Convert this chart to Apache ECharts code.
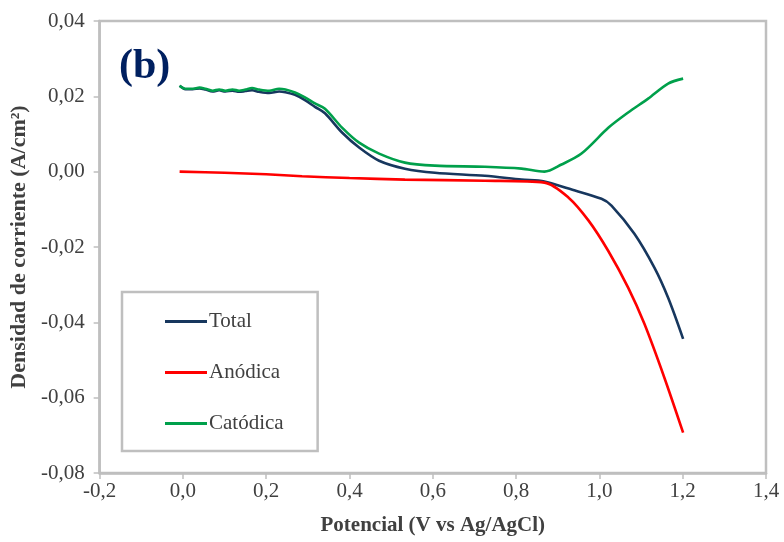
<!DOCTYPE html>
<html>
<head>
<meta charset="utf-8">
<script src="https://cdn.jsdelivr.net/npm/echarts@6/dist/echarts.min.js"></script>
<style>html,body{margin:0;padding:0;background:#fff}#c{width:784px;height:542px}</style>
</head>
<body>
<div id="c"></div>
<script>
// Potencial (V vs Ag/AgCl)
const totalX = [-0.008,0.006,0.023,0.040,0.054,0.071,0.087,0.102,0.119,0.135,0.150,0.166,0.183,0.207,0.231,0.246,0.269,0.293,0.317,0.341,0.382,0.423,0.471,0.533,0.605,0.725,0.813,0.868,0.926,1.005,1.029,1.084,1.132,1.165,1.201];
const totalY = [0.0228,0.0219,0.0219,0.0221,0.0218,0.0213,0.0216,0.0213,0.0215,0.0212,0.0214,0.0216,0.0212,0.0209,0.0213,0.0211,0.0204,0.0190,0.0172,0.0155,0.0104,0.0064,0.0029,0.0008,-0.0003,-0.0011,-0.0021,-0.0026,-0.0045,-0.0072,-0.0090,-0.0165,-0.0255,-0.0335,-0.0444];

const anodicaX = [-0.008,0.1,0.2,0.286,0.4,0.533,0.725,0.868,0.926,0.974,1.021,1.069,1.108,1.156,1.201];
const anodicaY = [0.0000,-0.0003,-0.0007,-0.0012,-0.0017,-0.0021,-0.0024,-0.0029,-0.0069,-0.0130,-0.0210,-0.0308,-0.0404,-0.0547,-0.0693];

const catodicaX = [-0.008,0.006,0.023,0.040,0.054,0.071,0.087,0.102,0.119,0.135,0.150,0.166,0.183,0.207,0.231,0.246,0.269,0.293,0.317,0.341,0.382,0.423,0.471,0.533,0.605,0.725,0.813,0.868,0.909,0.957,1.022,1.069,1.117,1.165,1.201];
const catodicaY = [0.0228,0.0220,0.0220,0.0223,0.0220,0.0215,0.0218,0.0215,0.0218,0.0215,0.0218,0.0222,0.0218,0.0215,0.0220,0.0218,0.0210,0.0197,0.0181,0.0167,0.0117,0.0077,0.0048,0.0024,0.0016,0.0013,0.0008,0.0000,0.0019,0.0048,0.0117,0.0157,0.0194,0.0234,0.0247];

const seriesNames = ['Total','Anódica','Catódica'];
const xTicks = {min:-0.2, max:1.4, interval:0.2};
const yTicks = {min:-0.08, max:0.04, interval:0.02};

function pairs(xs, ys){ return xs.map((x,i)=>[x, ys[i]]); }
function fmt(v, d){ const r = Number(v.toFixed(d)); return (Object.is(r,-0)?0:r).toFixed(d).replace('.', ','); }

const chart = echarts.init(document.getElementById('c'));
const font = 'Liberation Serif';
const frame = '#bfbfbf';
const lineStyle = (c)=>({color:c, width:2.6});
chart.setOption({
  animation:false,
  backgroundColor:'#fff',
  grid:{left:98,right:18,top:21,bottom:69,show:true,borderColor:frame,borderWidth:2.5,containLabel:false},
  xAxis:{type:'value',min:xTicks.min,max:xTicks.max,interval:xTicks.interval,
    axisLine:{show:true,onZero:false,lineStyle:{color:frame,width:2.5}},
    axisTick:{show:true,length:6,lineStyle:{color:frame,width:1.5}},
    splitLine:{show:false},
    axisLabel:{fontFamily:font,fontSize:21,color:'#404040',margin:8,formatter:v=>fmt(v,1)},
    name:'Potencial (V vs Ag/AgCl)',nameLocation:'middle',nameGap:42,
    nameTextStyle:{fontFamily:font,fontSize:21,fontWeight:'bold',color:'#404040'}},
  yAxis:{type:'value',min:yTicks.min,max:yTicks.max,interval:yTicks.interval,
    axisLine:{show:true,onZero:false,lineStyle:{color:frame,width:2.5}},
    axisTick:{show:true,length:6,lineStyle:{color:frame,width:1.5}},
    splitLine:{show:false},
    axisLabel:{fontFamily:font,fontSize:21,color:'#404040',margin:15,formatter:v=>fmt(v,2)},
    name:'Densidad de corriente (A/cm²)',nameLocation:'middle',nameGap:66,
    nameTextStyle:{fontFamily:font,fontSize:22,fontWeight:'bold',color:'#404040'}},
  legend:{orient:'vertical',left:122,top:292,data:seriesNames,
    icon:'rect',itemWidth:42,itemHeight:3,itemGap:30,
    padding:[19,34,17,43],borderColor:frame,borderWidth:2.5,backgroundColor:'#fff',
    textStyle:{fontFamily:font,fontSize:21,color:'#404040',padding:[0,0,0,-3]}},
  graphic:[{type:'text',left:119,top:46,style:{text:'(b)',font:'bold 42px "Liberation Serif"',fill:'#002060'}}],
  series:[
    {name:seriesNames[0],type:'line',data:pairs(totalX,totalY),showSymbol:false,smooth:0.3,lineStyle:lineStyle('#17375e'),itemStyle:{color:'#17375e'}},
    {name:seriesNames[1],type:'line',data:pairs(anodicaX,anodicaY),showSymbol:false,smooth:0.3,lineStyle:lineStyle('#ff0000'),itemStyle:{color:'#ff0000'}},
    {name:seriesNames[2],type:'line',data:pairs(catodicaX,catodicaY),showSymbol:false,smooth:0.3,lineStyle:lineStyle('#00a04b'),itemStyle:{color:'#00a04b'}}
  ]
});
</script>
</body>
</html>
